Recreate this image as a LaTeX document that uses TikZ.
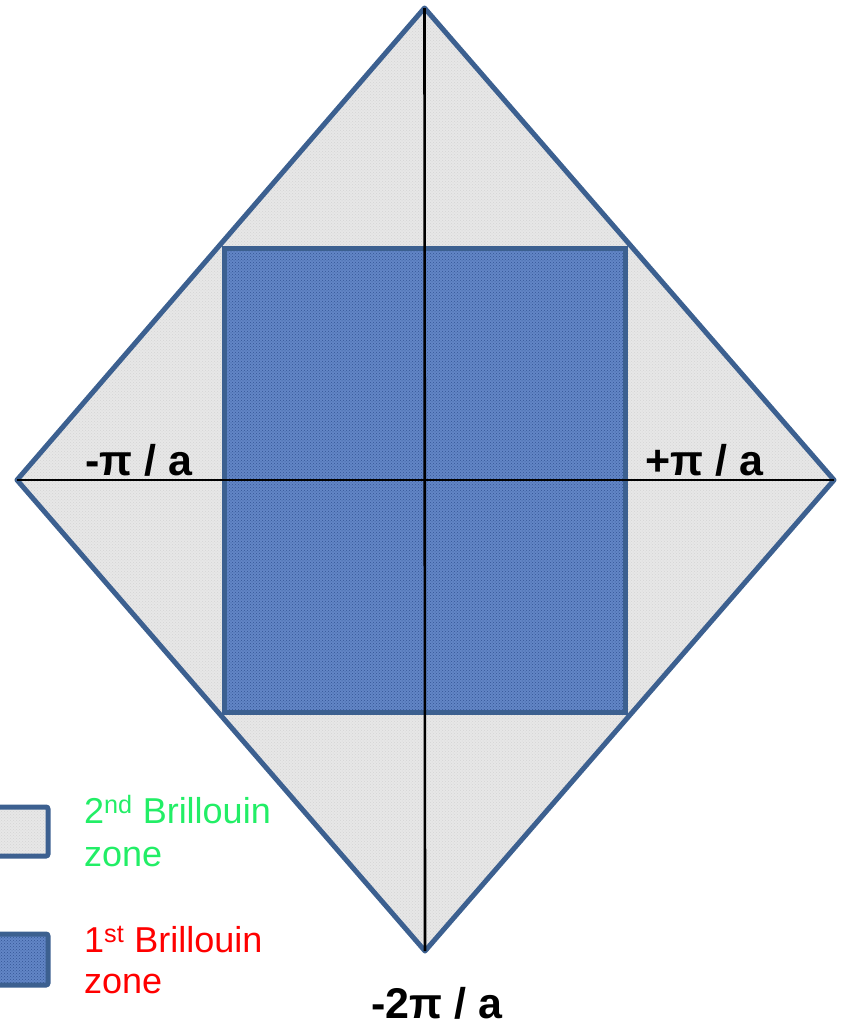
\documentclass[tikz,border=0pt]{standalone}
\usepackage{fontspec}
\setmainfont{Liberation Sans}
\usetikzlibrary{patterns}
\definecolor{edgeblue}{RGB}{60,96,144}
\definecolor{zonegray}{RGB}{231,231,231}
\definecolor{zoneblue}{RGB}{98,134,198}
\definecolor{darkspeck}{RGB}{52,84,150}
\definecolor{lightspeck}{RGB}{212,212,212}
\definecolor{legendgreen}{RGB}{34,238,102}
\tikzset{
  outline/.style={draw=edgeblue, line width=5pt, line join=round},
  axis/.style={draw=black, line width=2.6pt},
  klabel/.style={font=\fontsize{43}{50}\selectfont\bfseries, text=black, inner sep=0pt},
  legtext/.style={font=\fontsize{36}{42}\selectfont, inner sep=0pt, anchor=base west},
  legbox/.style={draw=edgeblue, line width=5pt, rounded corners=2pt}
}
\begin{document}
\begin{tikzpicture}[x=1pt,y=-1pt]
\useasboundingbox (0,0) rectangle (842,1026);
% corners
\coordinate (top) at (424.5,8);
\coordinate (right) at (834,480);
\coordinate (bottom) at (425,951);
\coordinate (left) at (17,480);
% second zone
\path[fill=zonegray] (top) -- (right) -- (bottom) -- (left) -- cycle;
\path[pattern=crosshatch dots, pattern color=lightspeck] (top) -- (right) -- (bottom) -- (left) -- cycle;
\path[outline] (top) -- (right) -- (bottom) -- (left) -- cycle;
% first zone
\coordinate (sqtl) at (224,248.5);
\coordinate (sqbr) at (625,712);
\path[fill=zoneblue] (sqtl) rectangle (sqbr);
\path[pattern=crosshatch dots, pattern color=darkspeck] (sqtl) rectangle (sqbr);
\path[draw=edgeblue, line width=5pt] (sqtl) rectangle (sqbr);
% axes
\draw[axis] (left) -- (right);
\draw[axis] (top) -- (bottom);
% labels
\node[klabel, anchor=base west] (lneg) at (85,475) {-π / a};
\node[klabel, anchor=base west] (lpos) at (645,475) {+π / a};
\node[klabel, anchor=base] (lbot) at (437,1018) {-2π / a};
% legend
\coordinate (b2a) at (-10,807);
\coordinate (b2b) at (48,856);
\path[fill=zonegray] (b2a) rectangle (b2b);
\path[pattern=crosshatch dots, pattern color=lightspeck] (b2a) rectangle (b2b);
\path[legbox] (b2a) rectangle (b2b);
\coordinate (b1a) at (-10,934);
\coordinate (b1b) at (48,985);
\path[fill=zoneblue] (b1a) rectangle (b1b);
\path[pattern=crosshatch dots, pattern color=darkspeck] (b1a) rectangle (b1b);
\path[legbox] (b1a) rectangle (b1b);
\node[legtext, text=legendgreen] (leg2a) at (84,823) {2\textsuperscript{nd} Brillouin};
\node[legtext, text=legendgreen] (leg2b) at (84,866) {zone};
\node[legtext, text=red] (leg1a) at (84,952) {1\textsuperscript{st} Brillouin};
\node[legtext, text=red] (leg1b) at (84,993) {zone};
\end{tikzpicture}
\end{document}
